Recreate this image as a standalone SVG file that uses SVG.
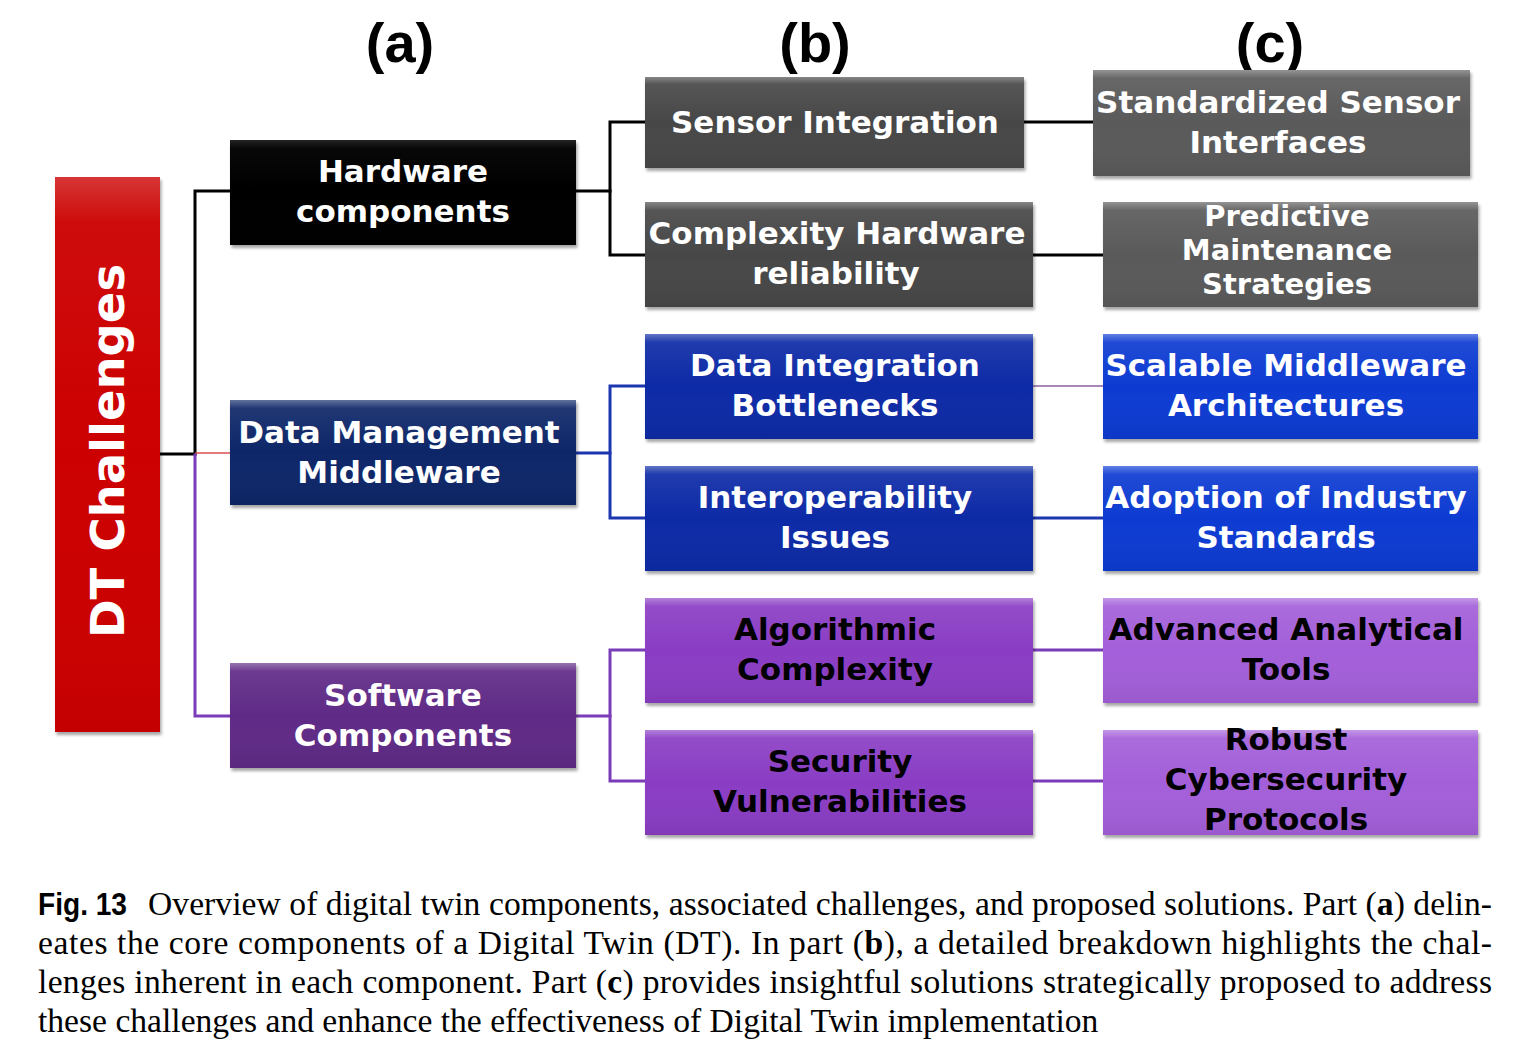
<svg xmlns="http://www.w3.org/2000/svg" width="1514" height="1054" viewBox="0 0 1514 1054">
<style>
.node text{font-family:"DejaVu Sans","Liberation Sans",sans-serif;font-weight:bold;font-size:31px;text-anchor:middle}
.node text.tight{font-size:29px}
.w{fill:#ffffff}
.k{fill:#000000}
.hdr{font-family:"Liberation Sans",Arial,sans-serif;font-weight:bold;font-size:56px;text-anchor:middle;fill:#000}
.cap{font-family:"Liberation Serif","Times New Roman",serif;font-size:33.6px;fill:#000}
.conn line,.conn polyline{fill:none;stroke-linecap:square}
.bk{stroke:#000;stroke-width:3}
.bl{stroke:#1c36b0;stroke-width:3}
.pu{stroke:#7a3cb8;stroke-width:3}
.thinr{stroke:#d85050;stroke-width:1.5}
.thinp{stroke:#a888b8;stroke-width:2}
.box{filter:url(#sh)}
.hl{fill:url(#bevel)}
</style>
<defs>
<filter id="sh" x="-5%" y="-5%" width="110%" height="115%">
<feDropShadow dx="1.5" dy="3" stdDeviation="1.5" flood-color="#000" flood-opacity="0.35"/>
</filter>
<linearGradient id="bevel" x1="0" y1="0" x2="0" y2="1">
<stop offset="0" stop-color="#fff" stop-opacity="0.35"/>
<stop offset="0.08" stop-color="#fff" stop-opacity="0.08"/>
<stop offset="0.5" stop-color="#fff" stop-opacity="0"/>
<stop offset="1" stop-color="#000" stop-opacity="0.06"/>
</linearGradient>
</defs>
<rect width="1514" height="1054" fill="#ffffff"/>

<text class="hdr" x="400" y="62">(a)</text>
<text class="hdr" x="815" y="62">(b)</text>
<text class="hdr" x="1270" y="62">(c)</text>

<g class="conn" id="connectors">
<line class="bk" x1="160" y1="454" x2="195" y2="454"/>
<polyline class="bk" points="230,191 195,191 195,454"/>
<polyline class="pu" points="195,455 195,716 230,716"/>
<line class="thinr" x1="196" y1="453" x2="230" y2="453"/>
<line class="bk" x1="576" y1="191" x2="610" y2="191"/>
<polyline class="bk" points="645,122 610,122 610,255 645,255"/>
<line class="bl" x1="576" y1="453" x2="610" y2="453"/>
<polyline class="bl" points="645,386 610,386 610,518 645,518"/>
<line class="pu" x1="576" y1="716" x2="610" y2="716"/>
<polyline class="pu" points="645,650 610,650 610,781 645,781"/>
<line class="bk" x1="1024" y1="122" x2="1093" y2="122"/>
<line class="bk" x1="1033" y1="255" x2="1103" y2="255"/>
<line class="thinp" x1="1033" y1="386" x2="1103" y2="386"/>
<line class="bl" x1="1033" y1="518" x2="1103" y2="518"/>
<line class="pu" x1="1033" y1="650" x2="1103" y2="650"/>
<line class="pu" x1="1033" y1="781" x2="1103" y2="781"/>
</g>

<g class="node" id="dt">
<rect class="box" x="55" y="177" width="105" height="555" fill="#cc0000"/>
<rect class="hl" x="55" y="177" width="105" height="555" opacity="0.6"/>
<text class="w" transform="translate(124,451) rotate(-90)" x="0" y="0" style="font-size:46.5px">DT Challenges</text>
</g>

<g class="node" id="hardware">
<rect class="box" x="230" y="140" width="346" height="105" fill="#000000"/>
<rect class="hl" x="230" y="140" width="346" height="105" opacity="0.4"/>
<text class="w" x="403" y="182">Hardware</text>
<text class="w" x="403" y="222">components</text>
</g>

<g class="node" id="datamgmt">
<rect class="box" x="230" y="400" width="346" height="105" fill="#0b2868"/>
<rect class="hl" x="230" y="400" width="346" height="105"/>
<text class="w" x="399" y="443">Data Management</text>
<text class="w" x="399" y="483">Middleware</text>
</g>

<g class="node" id="software">
<rect class="box" x="230" y="663" width="346" height="105" fill="#5e2a86"/>
<rect class="hl" x="230" y="663" width="346" height="105"/>
<text class="w" x="403" y="706">Software</text>
<text class="w" x="403" y="746">Components</text>
</g>

<g class="node" id="sensor">
<rect class="box" x="645" y="77" width="379" height="91" fill="#474747"/>
<rect class="hl" x="645" y="77" width="379" height="91"/>
<text class="w" x="835" y="133">Sensor Integration</text>
</g>

<g class="node" id="complexhw">
<rect class="box" x="645" y="202" width="388" height="105" fill="#474747"/>
<rect class="hl" x="645" y="202" width="388" height="105"/>
<text class="w" x="837" y="244">Complexity Hardware</text>
<text class="w" x="836" y="284">reliability</text>
</g>

<g class="node" id="dataint">
<rect class="box" x="645" y="334" width="388" height="105" fill="#0a2ba6"/>
<rect class="hl" x="645" y="334" width="388" height="105"/>
<text class="w" x="835" y="376">Data Integration</text>
<text class="w" x="835" y="416">Bottlenecks</text>
</g>

<g class="node" id="interop">
<rect class="box" x="645" y="466" width="388" height="105" fill="#0a2ba6"/>
<rect class="hl" x="645" y="466" width="388" height="105"/>
<text class="w" x="835" y="508">Interoperability</text>
<text class="w" x="835" y="548">Issues</text>
</g>

<g class="node" id="algo">
<rect class="box" x="645" y="598" width="388" height="105" fill="#8a3cc4"/>
<rect class="hl" x="645" y="598" width="388" height="105"/>
<text class="k" x="835" y="640">Algorithmic</text>
<text class="k" x="835" y="680">Complexity</text>
</g>

<g class="node" id="security">
<rect class="box" x="645" y="730" width="388" height="105" fill="#8a3cc4"/>
<rect class="hl" x="645" y="730" width="388" height="105"/>
<text class="k" x="840" y="772">Security</text>
<text class="k" x="840" y="812">Vulnerabilities</text>
</g>

<g class="node" id="stdsensor">
<rect class="box" x="1093" y="70" width="377" height="106" fill="#5a5a5a"/>
<rect class="hl" x="1093" y="70" width="377" height="106"/>
<text class="w" x="1278" y="113">Standardized Sensor</text>
<text class="w" x="1278" y="153">Interfaces</text>
</g>

<g class="node" id="predictive">
<rect class="box" x="1103" y="202" width="375" height="105" fill="#5a5a5a"/>
<rect class="hl" x="1103" y="202" width="375" height="105"/>
<text class="w tight" x="1287" y="226">Predictive</text>
<text class="w tight" x="1287" y="260">Maintenance</text>
<text class="w tight" x="1287" y="294">Strategies</text>
</g>

<g class="node" id="scalable">
<rect class="box" x="1103" y="334" width="375" height="105" fill="#0b3bd2"/>
<rect class="hl" x="1103" y="334" width="375" height="105"/>
<text class="w" x="1286" y="376">Scalable Middleware</text>
<text class="w" x="1286" y="416">Architectures</text>
</g>

<g class="node" id="adoption">
<rect class="box" x="1103" y="466" width="375" height="105" fill="#0b3bd2"/>
<rect class="hl" x="1103" y="466" width="375" height="105"/>
<text class="w" x="1286" y="508">Adoption of Industry</text>
<text class="w" x="1286" y="548">Standards</text>
</g>

<g class="node" id="advanced">
<rect class="box" x="1103" y="598" width="375" height="105" fill="#a35fd9"/>
<rect class="hl" x="1103" y="598" width="375" height="105"/>
<text class="k" x="1286" y="640">Advanced Analytical</text>
<text class="k" x="1286" y="680">Tools</text>
</g>

<g class="node" id="robust">
<rect class="box" x="1103" y="730" width="375" height="105" fill="#a35fd9"/>
<rect class="hl" x="1103" y="730" width="375" height="105"/>
<text class="k" x="1286" y="750">Robust</text>
<text class="k" x="1286" y="790">Cybersecurity</text>
<text class="k" x="1286" y="830">Protocols</text>
</g>

<g id="caption">
<text x="38" y="915" textLength="89" lengthAdjust="spacingAndGlyphs" style="font-family:'Liberation Sans',Arial,sans-serif;font-weight:bold;font-size:31px">Fig. 13</text>
<text class="cap" x="148" y="915" textLength="1344" lengthAdjust="spacing">Overview of digital twin components, associated challenges, and proposed solutions. Part (<tspan font-weight="bold">a</tspan>) delin-</text>
<text class="cap" x="38" y="954" textLength="1454" lengthAdjust="spacing">eates the core components of a Digital Twin (DT). In part (<tspan font-weight="bold">b</tspan>), a detailed breakdown highlights the chal-</text>
<text class="cap" x="38" y="993" textLength="1454" lengthAdjust="spacing">lenges inherent in each component. Part (<tspan font-weight="bold">c</tspan>) provides insightful solutions strategically proposed to address</text>
<text class="cap" x="38" y="1032">these challenges and enhance the effectiveness of Digital Twin implementation</text>
</g>
</svg>
